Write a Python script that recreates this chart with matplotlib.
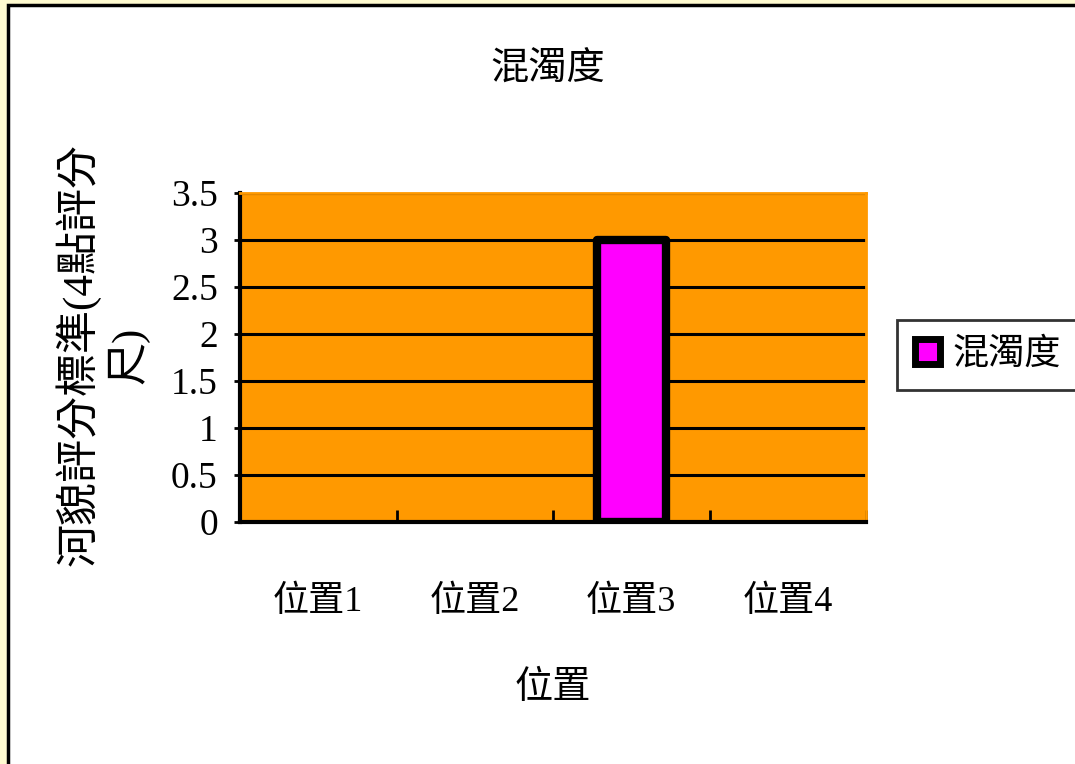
import matplotlib.pyplot as plt
from matplotlib.patches import Rectangle, Patch

# data
categories = ['位置1', '位置2', '位置3', '位置4']
values = [0, 0, 3, 0]
y_ticks = [0, 0.5, 1, 1.5, 2, 2.5, 3, 3.5]
y_tick_labels = ['0', '0.5', '1', '1.5', '2', '2.5', '3', '3.5']
series_name = '混濁度'

plt.rcParams['font.family'] = ['Liberation Serif', 'Noto Sans CJK TC']

fig = plt.figure(figsize=(10.75, 7.64), dpi=100)
fig.patch.set_facecolor('#fffbd0')

# outer chart border (white area with black edge)
fig.patches.append(Rectangle((8 / 1075, -0.05), 1.2, 1.05 - 5 / 764,
                             transform=fig.transFigure, facecolor='white',
                             edgecolor='black', linewidth=2.5, zorder=-5))

ax = fig.add_axes([240 / 1075, 1 - 522 / 764, 626 / 1075, 329 / 764])
ax.set_zorder(2)
ax.set_facecolor('#ff9900')

x = range(len(categories))
bars = ax.bar(x, values, width=0.44, color='#ff00ff', edgecolor='black',
              linewidth=6, joinstyle='round', zorder=3)
# empty bars are not drawn in the original
for b, v in zip(bars, values):
    if v == 0:
        b.set_visible(False)

ax.set_xlim(-0.5, len(categories) - 0.5)
ax.set_ylim(0, 3.5)
ax.set_yticks(y_ticks)
ax.set_yticklabels(y_tick_labels, fontsize=27)
ax.yaxis.grid(True, color='black', linewidth=2.2, zorder=1)
ax.set_axisbelow(True)

# category ticks on boundaries, labels in the middle
ax.set_xticks([0.5, 1.5, 2.5, 3.5])
ax.set_xticklabels([])
ax.set_xticks(list(x), minor=True)
ax.set_xticklabels(categories, minor=True, fontsize=26)
ax.tick_params(axis='x', which='major', direction='in', length=9, width=2, color='black')
ax.tick_params(axis='x', which='minor', length=0, pad=46)
ax.tick_params(axis='y', length=4, width=2, pad=12)

for s in ['left', 'bottom']:
    ax.spines[s].set_linewidth(3)
    ax.spines[s].set_color('black')
for s in ['top', 'right']:
    ax.spines[s].set_linewidth(2)
    ax.spines[s].set_color('#ff9900')
    ax.spines[s].set_linestyle((0, (1.5, 1)))

fig.text(548 / 1075, 1 - 70 / 764, '混濁度', fontsize=27.5, ha='center', va='center')
fig.text(553 / 1075, 1 - 688 / 764, '位置', fontsize=27.5, ha='center', va='center')
fig.text(102 / 1075, 1 - 355 / 764, '河貌評分標準(4點評分\n尺)', fontsize=31,
         rotation=90, ha='center', va='center', linespacing=1.2)

handle = Patch(facecolor='#ff00ff', edgecolor='black', linewidth=5, joinstyle='round')
leg = fig.legend([handle], [series_name], loc='center left',
                 bbox_to_anchor=(897 / 1075, 1 - 355 / 764),
                 fontsize=26, frameon=True, fancybox=False, handlelength=0.7,
                 handleheight=0.7, handletextpad=0.35, borderpad=0.5,
                 borderaxespad=0)
leg.get_frame().set_edgecolor('black')
leg.get_frame().set_linewidth(2)

fig.savefig('out.png', dpi=100, facecolor=fig.get_facecolor())
